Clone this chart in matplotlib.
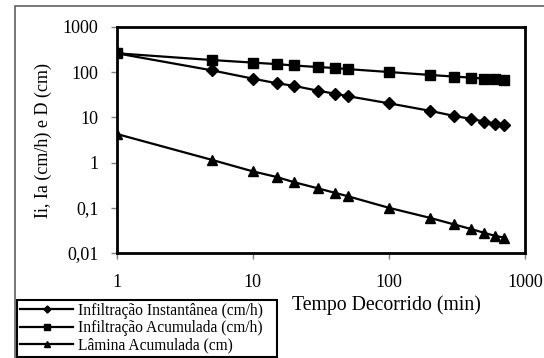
import matplotlib
matplotlib.use('Agg')
import matplotlib.pyplot as plt
from matplotlib.patches import Rectangle
from matplotlib.ticker import FixedLocator, FuncFormatter, NullLocator

# tempo decorrido (min)
tempo = [1, 5, 10, 15, 20, 30, 40, 50, 100, 200, 300, 400, 500, 600, 700]
# infiltracao instantanea (cm/h)
inst = [262, 110, 72, 57, 50, 39, 33.5, 29.5, 20.5, 14, 10.8, 9.3, 8.1, 7.3, 6.7]
# infiltracao acumulada (cm/h)
acum = [262, 186, 163, 151, 141, 130, 124, 117, 101, 87, 80, 76, 72, 70, 67]
# lamina acumulada (cm)
lamina = [4.3, 1.15, 0.64, 0.48, 0.37, 0.27, 0.215, 0.18, 0.1, 0.06, 0.043, 0.034, 0.028, 0.024, 0.022]

nomes = ['Infiltração Instantânea (cm/h)', 'Infiltração Acumulada (cm/h)', 'Lâmina Acumulada (cm)']
yticks = [0.01, 0.1, 1, 10, 100, 1000]
ytick_labels = ['0,01', '0,1', '1', '10', '100', '1000']
xticks = [1, 10, 100, 1000]

plt.rcParams['font.family'] = ['Liberation Serif', 'DejaVu Serif']

fig = plt.figure(figsize=(5.44, 3.58), dpi=100)
W, H = 544, 358

#outer chart border (grey)
fig.patches.append(Rectangle((14.5/W, -0.1), 2, 1.1 - 6.5/H, transform=fig.transFigure,
                             fill=False, edgecolor='#606060', linewidth=1.2))

ax = fig.add_axes([116.7/W, 1-253/H, (525-116.7)/W, (253-27)/H])
ax.set_xscale('log')
ax.set_yscale('log')

l1, = ax.plot(tempo, inst, color='black', lw=1.6, marker='D', ms=6)
l2, = ax.plot(tempo, acum, color='black', lw=1.6, marker='s', ms=7.5)
l3, = ax.plot(tempo, lamina, color='black', lw=1.6, marker='^', ms=7.5)

ax.set_xlim(1, 1000)
ax.set_ylim(0.01, 1000)
ax.xaxis.set_major_locator(FixedLocator(xticks))
ax.xaxis.set_minor_locator(NullLocator())
ax.xaxis.set_major_formatter(FuncFormatter(lambda v, p: '%d' % v))
ax.yaxis.set_major_locator(FixedLocator(yticks))
ax.yaxis.set_minor_locator(NullLocator())
ax.set_yticklabels(ytick_labels)
ax.tick_params(axis='both', direction='out', length=4, width=1, color='#808080',
               labelsize=13)
ax.tick_params(axis='x', pad=11)
ax.tick_params(axis='y', pad=9)

for s in ax.spines.values():
    s.set_linewidth(2)
    s.set_color('black')

ax.set_ylabel('Ii, Ia (cm/h) e D (cm)', fontsize=13, labelpad=8)
fig.text(386/W, 1-305/H, 'Tempo Decorrido (min)', fontsize=14.2, ha='center', va='center')

#legend box at bottom left
leg = fig.legend([l1, l2, l3], nomes, loc='lower left',
                 bbox_to_anchor=(17/W, 1/H, (277-17)/W, (357-300)/H), mode='expand',
                 fontsize=11.2, handlelength=3.4, handletextpad=0.3, borderpad=0.2,
                 labelspacing=0.1, borderaxespad=0, fancybox=False, framealpha=1,
                 edgecolor='black', markerscale=0.6)
leg.get_frame().set_linewidth(1.5)

fig.savefig('out.png', dpi=100)
